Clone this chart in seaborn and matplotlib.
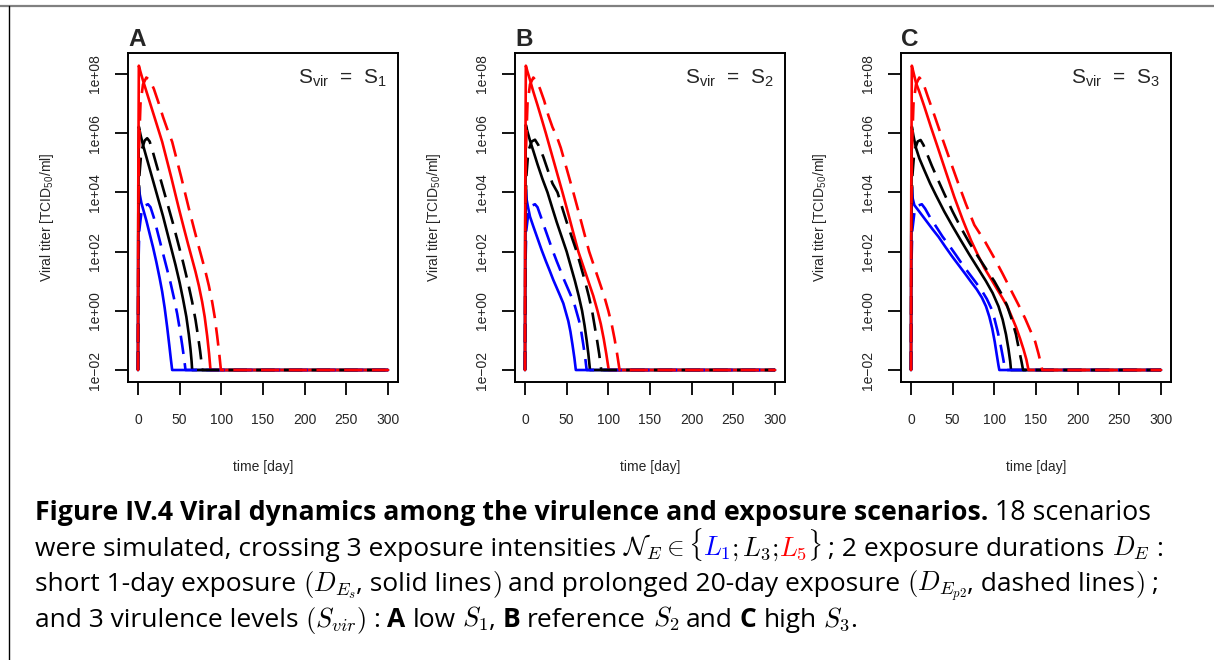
import numpy as np
import seaborn as sns
import matplotlib.pyplot as plt
from matplotlib.lines import Line2D

W, H = 1214, 660

# log10 viral titer, floor at 1e-02 until day 300
# panel A (S1)
A_blue_s_day = [0, 0.3, 1, 2, 4, 7, 10, 14, 18, 22, 26, 29, 32, 35, 37.5, 39.5, 41, 300]
A_blue_s_log = [-2, 2.5, 4.19, 3.95, 3.65, 3.35, 3.05, 2.6, 2.15, 1.65, 1.1, 0.65, 0.1, -0.55, -1.15, -1.65, -2, -2]
A_blue_d_day = [0, 0.5, 1.5, 4, 8, 12, 15, 19, 24, 29, 34, 39, 43, 47, 50, 53, 55.5, 57, 300]
A_blue_d_log = [-2, 1.5, 2.7, 3.3, 3.55, 3.6, 3.5, 3.15, 2.6, 2.05, 1.5, 0.95, 0.45, -0.1, -0.6, -1.15, -1.65, -2, -2]
A_black_s_day = [0, 0.3, 1, 3, 6, 10, 15, 20, 25, 30, 35, 40, 45, 50, 54, 58, 61, 63, 64.3, 65, 300]
A_black_s_log = [-2, 3, 6.22, 5.95, 5.6, 5.2, 4.7, 4.2, 3.7, 3.2, 2.65, 2.1, 1.55, 0.95, 0.4, -0.2, -0.8, -1.3, -1.7, -2, -2]
A_black_d_day = [0, 0.5, 1.5, 4, 8, 11, 14, 18, 24, 30, 36, 42, 48, 54, 60, 65, 69, 72, 74.5, 76, 77, 300]
A_black_d_log = [-2, 2.5, 4.5, 5.4, 5.75, 5.83, 5.72, 5.35, 4.75, 4.15, 3.55, 2.95, 2.3, 1.65, 0.95, 0.3, -0.3, -0.85, -1.35, -1.7, -2, -2]
A_red_s_day = [0, 0.3, 1, 3, 6, 10, 15, 20, 25, 29, 35, 40, 45, 49, 55, 60, 65, 69, 73, 77, 80, 83, 85.3, 87, 300]
A_red_s_log = [-2, 4, 8.28, 8.07, 7.78, 7.42, 6.97, 6.52, 6.07, 5.71, 5.05, 4.5, 3.92, 3.46, 2.8, 2.26, 1.74, 1.32, 0.85, 0.3, -0.2, -0.85, -1.45, -2, -2]
A_red_d_day = [0, 0.4, 1.2, 3, 6, 10, 14, 19, 25, 30, 35, 41, 47, 52, 57, 61, 67, 72, 77, 81, 85, 89, 92, 95, 97.5, 99.5, 300]
A_red_d_log = [-2, 3, 5.5, 7.0, 7.65, 7.88, 7.8, 7.5, 7.0, 6.55, 6.15, 5.71, 5.05, 4.5, 3.92, 3.46, 2.8, 2.26, 1.74, 1.32, 0.85, 0.3, -0.2, -0.85, -1.45, -2, -2]

# panel B (S2)
B_blue_s_day = [0, 0.3, 1, 2, 4, 6, 10, 15, 20, 25, 30, 34, 38, 42, 46, 49, 52, 54.5, 57, 59.3, 61, 300]
B_blue_s_log = [-2, 2.5, 4.1, 3.75, 3.45, 3.18, 2.85, 2.45, 2.05, 1.68, 1.33, 1.04, 0.78, 0.52, 0.25, -0.05, -0.35, -0.7, -1.15, -1.6, -2, -2]
B_blue_d_day = [0, 0.5, 1.5, 4, 8, 12, 15, 19, 23, 28, 33, 38, 43, 47, 51, 55, 59, 62, 65, 67.5, 70, 72.3, 74, 300]
B_blue_d_log = [-2, 1.5, 2.7, 3.3, 3.55, 3.6, 3.5, 3.18, 2.85, 2.45, 2.05, 1.68, 1.33, 1.04, 0.78, 0.52, 0.25, -0.05, -0.35, -0.7, -1.15, -1.6, -2, -2]
B_black_s_day = [0, 0.3, 1, 3, 6, 10, 15, 21, 27, 33, 38, 44, 50, 55, 60, 64.5, 68.5, 71.5, 74, 76, 78, 300]
B_black_s_log = [-2, 3, 6.28, 6.05, 5.75, 5.4, 4.95, 4.45, 4.0, 3.45, 3.0, 2.5, 2.0, 1.5, 1.0, 0.5, 0.0, -0.5, -1.0, -1.45, -2, -2]
B_black_d_day = [0, 0.5, 1.5, 4, 8, 12, 16, 22, 28, 33, 39, 45, 50, 56, 62, 67, 72, 76.5, 80.5, 83.5, 86.5, 89, 91.5, 300]
B_black_d_log = [-2, 2.5, 4.5, 5.4, 5.72, 5.78, 5.6, 5.2, 4.7, 4.3, 4.0, 3.45, 3.0, 2.5, 2.0, 1.5, 1.0, 0.5, 0.0, -0.5, -1.0, -1.45, -2, -2]
B_red_s_day = [0, 0.3, 1, 3, 6, 10, 15, 20, 25, 30, 35, 40, 45, 50, 55, 60, 64, 70, 76, 82, 87, 91, 94.5, 97.5, 100.5, 300]
B_red_s_log = [-2, 4, 8.28, 8.08, 7.8, 7.4, 6.95, 6.48, 6.0, 5.5, 5.0, 4.5, 4.0, 3.48, 2.95, 2.42, 2.0, 1.5, 1.0, 0.5, 0.0, -0.45, -0.95, -1.45, -2, -2]
B_red_d_day = [0, 0.4, 1.2, 3, 6, 10, 14, 18, 23, 28, 33, 38, 43, 48, 53, 58, 63, 68, 73, 77, 83, 89, 95, 100, 104, 107.5, 110.5, 113.5, 300]
B_red_d_log = [-2, 3, 5.5, 7.0, 7.65, 7.88, 7.75, 7.5, 7.1, 6.6, 6.2, 5.9, 5.5, 5.0, 4.5, 4.0, 3.48, 2.95, 2.42, 2.0, 1.5, 1.0, 0.5, 0.0, -0.45, -0.95, -1.45, -2, -2]

# panel C (S3)
C_blue_s_day = [0, 0.3, 1, 2, 4, 10, 18, 26, 33, 41, 49, 57, 65, 72, 79, 85, 90, 94, 97.5, 100.5, 103, 105, 106, 300]
C_blue_s_log = [-2, 2.5, 4.19, 3.8, 3.57, 3.35, 3.05, 2.75, 2.5, 2.17, 1.85, 1.55, 1.25, 0.98, 0.72, 0.45, 0.15, -0.2, -0.6, -1.05, -1.5, -1.85, -2, -2]
C_blue_d_day = [0, 0.5, 1.5, 4, 8, 13, 17, 23, 30, 38, 46, 54, 62, 70, 78, 85, 91, 96, 100, 104, 107.5, 110.5, 113, 300]
C_blue_d_log = [-2, 1.5, 2.7, 3.3, 3.55, 3.6, 3.45, 3.15, 2.85, 2.5, 2.2, 1.88, 1.55, 1.25, 0.95, 0.68, 0.4, 0.1, -0.25, -0.7, -1.15, -1.6, -2, -2]
C_black_s_day = [0, 0.3, 1, 3, 6, 10, 16, 23, 30, 40, 50, 60, 70, 80, 90, 98, 105, 110, 114, 117, 119, 120, 300]
C_black_s_log = [-2, 3, 6.22, 5.9, 5.5, 5.15, 4.75, 4.3, 3.9, 3.35, 2.85, 2.37, 1.9, 1.45, 1.0, 0.6, 0.15, -0.3, -0.8, -1.3, -1.7, -2, -2]
C_black_d_day = [0, 0.5, 1.5, 4, 8, 11.5, 15, 20, 25, 32, 40, 50, 60, 70, 80, 90, 100, 108, 115, 121, 126, 129.5, 132.5, 134.5, 300]
C_black_d_log = [-2, 2.5, 4.5, 5.4, 5.72, 5.77, 5.6, 5.25, 4.9, 4.45, 3.95, 3.35, 2.8, 2.3, 1.85, 1.42, 1.0, 0.6, 0.2, -0.3, -0.8, -1.3, -1.7, -2, -2]
C_red_s_day = [0, 0.3, 1, 3, 6, 10, 16, 24, 32, 42, 52, 62, 72, 80, 88, 97, 104, 110, 116, 121, 126, 131, 135, 138.5, 141, 300]
C_red_s_log = [-2, 4, 8.28, 8.05, 7.7, 7.4, 6.9, 6.2, 5.53, 4.68, 3.84, 3.08, 2.38, 1.9, 1.45, 1.03, 0.7, 0.42, 0.12, -0.21, -0.55, -0.95, -1.3, -1.65, -2, -2]
C_red_d_day = [0, 0.4, 1.2, 3, 6, 10, 14, 20, 28, 36, 46, 56, 66, 76, 89, 100, 110, 121, 129, 137, 143, 149, 153, 156, 157.5, 300]
C_red_d_log = [-2, 3, 5.5, 7.0, 7.65, 7.88, 7.75, 7.25, 6.61, 5.95, 5.15, 4.36, 3.6, 2.9, 2.33, 1.78, 1.25, 0.64, 0.2, -0.26, -0.65, -1.04, -1.45, -1.8, -2, -2]

ytick_vals = [1e-2, 1e0, 1e2, 1e4, 1e6, 1e8]
ytick_labels = ["1e\u221202", "1e+00", "1e+02", "1e+04", "1e+06", "1e+08"]
xtick_vals = [0, 50, 100, 150, 200, 250, 300]

BLUE, BLACK, RED = "#0000FF", "#000000", "#FF0000"
DASH = (0, (7, 3.5))

sns.set_style("ticks")
plt.rcParams['font.family'] = ['Liberation Sans', 'DejaVu Sans']
plt.rcParams['mathtext.fontset'] = 'custom'
plt.rcParams['mathtext.rm'] = 'Liberation Sans'
plt.rcParams['mathtext.it'] = 'Liberation Sans:italic'
plt.rcParams['mathtext.bf'] = 'Liberation Sans:bold'

fig = plt.figure(figsize=(W / 100, H / 100), dpi=100)
fig.patch.set_facecolor("white")

panels = [
    (128, "A", "1", [
        (A_blue_s_day, A_blue_s_log, BLUE, "-"), (A_black_s_day, A_black_s_log, BLACK, "-"),
        (A_red_s_day, A_red_s_log, RED, "-"), (A_blue_d_day, A_blue_d_log, BLUE, DASH),
        (A_black_d_day, A_black_d_log, BLACK, DASH), (A_red_d_day, A_red_d_log, RED, DASH)]),
    (515, "B", "2", [
        (B_blue_s_day, B_blue_s_log, BLUE, "-"), (B_black_s_day, B_black_s_log, BLACK, "-"),
        (B_red_s_day, B_red_s_log, RED, "-"), (B_blue_d_day, B_blue_d_log, BLUE, DASH),
        (B_black_d_day, B_black_d_log, BLACK, DASH), (B_red_d_day, B_red_d_log, RED, DASH)]),
    (901, "C", "3", [
        (C_blue_s_day, C_blue_s_log, BLUE, "-"), (C_black_s_day, C_black_s_log, BLACK, "-"),
        (C_red_s_day, C_red_s_log, RED, "-"), (C_blue_d_day, C_blue_d_log, BLUE, DASH),
        (C_black_d_day, C_black_d_log, BLACK, DASH), (C_red_d_day, C_red_d_log, RED, DASH)]),
]

for left, letter, lvl, curves in panels:
    ax = fig.add_axes([left / W, (H - 382) / H, 270 / W, 329 / H])
    for days, logs, color, ls in curves:
        sns.lineplot(x=days, y=10.0 ** np.array(logs), color=color, linestyle=ls,
                     lw=1.9, ax=ax, sort=False, estimator=None)
    ax.set_yscale("log")
    ax.set_xlim(-12, 312)
    ax.set_ylim(10 ** -2.405, 10 ** 8.709)
    ax.set_yticks(ytick_vals, ytick_labels)
    ax.set_xticks(xtick_vals)
    ax.minorticks_off()
    ax.tick_params(axis="both", direction="out", length=9.4, width=1.3,
                   labelsize=10, color="black")
    ax.tick_params(axis="x", pad=13)
    ax.tick_params(axis="y", pad=9)
    for lab in ax.get_yticklabels():
        lab.set_rotation(90)
        lab.set_va("center")
    for sp in ax.spines.values():
        sp.set_linewidth(1.4)
        sp.set_color("black")
    ax.set_xlabel("time [day]", fontsize=10)
    ax.xaxis.set_label_coords(0.5, -0.257)
    ax.xaxis.label.set_va("center")
    ax.set_ylabel(r"Viral titer [TCID$_{50}$/ml]", fontsize=10)
    ax.yaxis.set_label_coords(-0.30, 0.5)
    ax.yaxis.label.set_va("center")
    ax.text(0, 1.04, letter, transform=ax.transAxes, fontsize=17.5,
            fontweight="bold", ha="left", va="center")
    ax.text(0.959, 0.924, r"S$_{\mathrm{vir}}$  =  S$_{\mathrm{" + lvl + "}}$",
            transform=ax.transAxes, fontsize=15, ha="right", va="center")

# page frame
fig.add_artist(Line2D([0, 1], [1 - 5.5 / H] * 2, color="#808080", lw=1.6,
                      transform=fig.transFigure))
fig.add_artist(Line2D([9.3 / W] * 2, [0, 1 - 5.5 / H], color="black", lw=1.0,
                      transform=fig.transFigure))

# caption
renderer = fig.canvas.get_renderer()
CAP_FONT = ["Open Sans", "DejaVu Sans"]
CAP_SIZE = 19
styles = {
    "r": dict(family=CAP_FONT, color="black"),
    "b": dict(family=CAP_FONT, color="black", fontweight="bold"),
    "m": dict(family=CAP_FONT, color="black", math_fontfamily="cm"),
    "mb": dict(family=CAP_FONT, color=BLUE, math_fontfamily="cm"),
    "mr": dict(family=CAP_FONT, color=RED, math_fontfamily="cm"),
}


def text_width(s, **kw):
    t = fig.text(0, 0, s, fontsize=CAP_SIZE, **kw)
    w = t.get_window_extent(renderer).width
    t.remove()
    return w


space_w = text_width("a a", **styles["r"]) - text_width("aa", **styles["r"])


def caption_line(y, pieces, x=35, size=CAP_SIZE):
    for txt, kind in pieces:
        if txt.startswith(" "):
            x += space_w
            txt = txt[1:]
        t = fig.text(x / W, 1 - y / H, txt, fontsize=size, ha="left",
                     va="baseline", **styles[kind])
        x += t.get_window_extent(renderer).width


caption_line(520, [
    ("Figure IV.4 Viral dynamics among the virulence and exposure scenarios.", "b"),
    (" 18 scenarios", "r")], size=19.3)
caption_line(555.5, [
    ("were simulated, crossing 3 exposure intensities", "r"),
    (r" $\mathcal{N}_E \in \{$", "m"), (r"$L_1$", "mb"), (r"$;L_3;$", "m"),
    (r"$L_5$", "mr"), (r"$\}$", "m"), (" ; 2 exposure durations", "r"),
    (r" $D_E$", "m"), (" :", "r")])
caption_line(591, [
    ("short 1-day exposure", "r"), (r" $(D_{E_s}$", "m"),
    (", solid lines", "r"), (r"$)$", "m"),
    (" and prolonged 20-day exposure", "r"), (r" $(D_{E_{p2}}$", "m"),
    (", dashed lines", "r"), (r"$)$", "m"), (" ;", "r")])
caption_line(627, [
    ("and 3 virulence levels", "r"), (r" $(S_{vir})$", "m"), (" :", "r"),
    (" A", "b"), (" low", "r"), (r" $S_1$", "m"), (",", "r"),
    (" B", "b"), (" reference", "r"), (r" $S_2$", "m"), (" and", "r"),
    (" C", "b"), (" high", "r"), (r" $S_3$", "m"), (".", "r")])

fig.savefig("out.png", dpi=100, facecolor="white")
